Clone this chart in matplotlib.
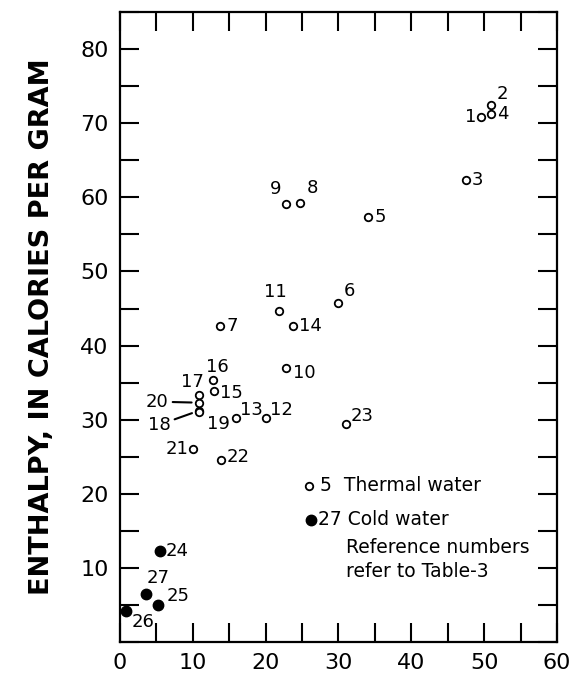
import matplotlib.pyplot as plt
from matplotlib.ticker import MultipleLocator

plt.rcParams['font.family'] = ['DejaVu Sans']

# thermal water samples (open circles)
thermal_ids = ['1', '2', '3', '4', '5', '6', '7', '8', '9', '10', '11', '12',
               '13', '14', '15', '16', '17', '18', '19', '20', '21', '22', '23']
thermal_x = [49.6, 51.0, 47.5, 51.0, 34.0, 30.0, 13.8, 24.7, 22.8, 22.8, 21.8, 20.0,
             15.9, 23.8, 12.9, 12.8, 10.8, 10.8, 10.9, 10.8, 10.0, 13.9, 31.0]
thermal_y = [70.8, 72.5, 62.4, 71.3, 57.4, 45.7, 42.6, 59.3, 59.1, 37.0, 44.7, 30.2,
             30.2, 42.6, 33.9, 35.3, 33.3, 31.2, 31.1, 32.3, 26.1, 24.6, 29.4]

# cold water samples (filled circles)
cold_ids = ['24', '25', '26', '27']
cold_x = [5.5, 5.2, 0.8, 3.6]
cold_y = [12.3, 5.0, 4.2, 6.5]

# label placement: (dx px, dy px, ha)
lab = {
    '1': (-5, 0, 'right'), '2': (5, 11, 'left'), '3': (6, 0, 'left'),
    '4': (6, 0, 'left'), '5': (7, 0, 'left'), '6': (5, 12, 'left'),
    '7': (6, 0, 'left'), '8': (7, 15, 'left'), '9': (-5, 15, 'right'),
    '10': (7, -5, 'left'), '11': (-3, 19, 'center'), '12': (4, 8, 'left'),
    '13': (4, 8, 'left'), '14': (6, 0, 'left'), '15': (6, -2, 'left'),
    '16': (4, 13, 'center'), '17': (5, 13, 'right'), '19': (8, -12, 'left'),
    '21': (-4, 0, 'right'), '22': (6, 3, 'left'), '23': (5, 8, 'left'),
    '24': (6, 0, 'left'), '25': (9, 9, 'left'), '26': (6, -11, 'left'),
    '27': (1, 16, 'left'),
}

fig = plt.figure(figsize=(5.79, 6.73), dpi=100)
ax = fig.add_axes([0.207, 0.046, 0.755, 0.936])

ax.plot(thermal_x, thermal_y, 'o', ms=5.4, mfc='white', mec='black', mew=1.3)
ax.plot(cold_x, cold_y, 'o', ms=7.5, color='black')

fs = 13
for i, x, y in zip(thermal_ids + cold_ids, thermal_x + cold_x, thermal_y + cold_y):
    if i in lab:
        dx, dy, ha = lab[i]
        ax.annotate(i, (x, y), xytext=(dx, dy), textcoords='offset pixels',
                    ha=ha, va='center', fontsize=fs)

# 20 and 18 with leader lines
i20 = thermal_ids.index('20')
i18 = thermal_ids.index('18')
ax.annotate('20', (thermal_x[i20], thermal_y[i20]), xytext=(-30, 1),
            textcoords='offset pixels', ha='right', va='center', fontsize=fs,
            arrowprops=dict(arrowstyle='-', lw=1.5, shrinkA=1, shrinkB=5))
ax.annotate('18', (thermal_x[i18], thermal_y[i18]), xytext=(-28, -14),
            textcoords='offset pixels', ha='right', va='center', fontsize=fs,
            arrowprops=dict(arrowstyle='-', lw=1.5, shrinkA=1, shrinkB=5))

# key
ax.plot([26.0], [21.1], 'o', ms=5.4, mfc='white', mec='black', mew=1.3)
ax.plot([26.2], [16.5], 'o', ms=7.5, color='black')
ax.annotate('5  Thermal water', (26.0, 21.1), xytext=(11, 0), textcoords='offset pixels',
            ha='left', va='center', fontsize=13.5)
ax.annotate('27 Cold water', (26.2, 16.5), xytext=(7, 0), textcoords='offset pixels',
            ha='left', va='center', fontsize=13.5)
ax.text(31.0, 11.1, 'Reference numbers\nrefer to Table-3', ha='left', va='center',
        fontsize=13.5, linespacing=1.35)

ax.set_xlim(0, 60)
ax.set_ylim(0, 85)
ax.xaxis.set_major_locator(MultipleLocator(10))
ax.xaxis.set_minor_locator(MultipleLocator(5))
ax.yaxis.set_minor_locator(MultipleLocator(5))
ax.set_yticks(range(10, 81, 10))
ax.tick_params(which='both', direction='in', length=14, width=1.5,
               top=True, right=True, labelsize=16)
ax.tick_params(axis='x', pad=8)
ax.tick_params(axis='y', pad=8)
for s in ax.spines.values():
    s.set_linewidth(1.6)

ax.set_ylabel('ENTHALPY, IN CALORIES PER GRAM', fontsize=19.5, fontweight='bold',
              labelpad=18)

fig.savefig('out.png', dpi=100)
